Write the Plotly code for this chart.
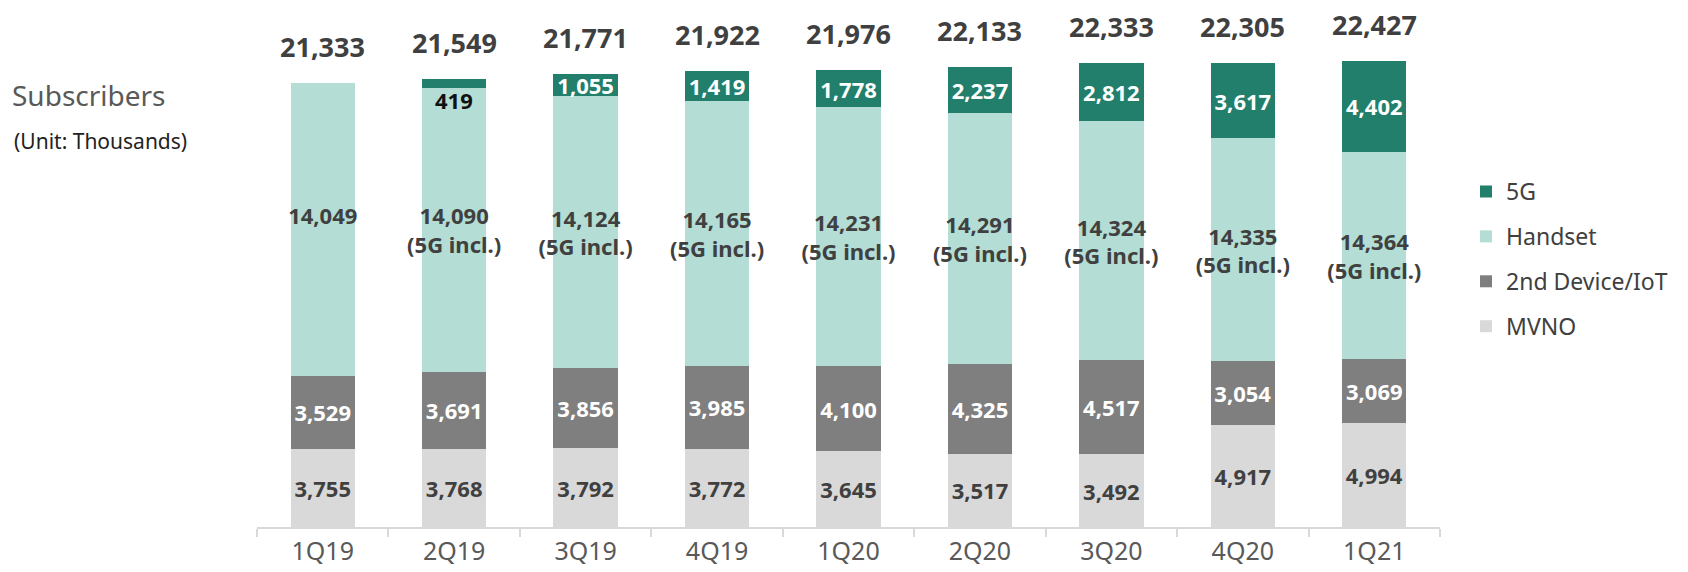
import plotly.graph_objects as go

# Daten (Tausend Abonnenten)
quarters = ["1Q19", "2Q19", "3Q19", "4Q19", "1Q20", "2Q20", "3Q20", "4Q20", "1Q21"]
mvno = [3755, 3768, 3792, 3772, 3645, 3517, 3492, 4917, 4994]
iot = [3529, 3691, 3856, 3985, 4100, 4325, 4517, 3054, 3069]
handset = [14049, 14090, 14124, 14165, 14231, 14291, 14324, 14335, 14364]  # inkl. 5G
fiveg = [0, 419, 1055, 1419, 1778, 2237, 2812, 3617, 4402]
totals = [21333, 21549, 21771, 21922, 21976, 22133, 22333, 22305, 22427]

handset_ohne_5g = [h - g for h, g in zip(handset, fiveg)]

def fmt(v):
    return f"{v:,}"

FONT = "Noto Sans"
DARK = "#404040"
LBL = 22

# erste Zeile leer auffüllen, damit 14,049 auf gleicher Höhe sitzt wie die anderen
handset_text = [fmt(handset[0]) + "<br>&nbsp;"] + [fmt(h) + "<br>(5G incl.)" for h in handset[1:]]
fiveg_text = ["", ""] + [fmt(g) for g in fiveg[2:]]  # 419 kommt als Annotation

fig = go.Figure()
fig.add_trace(go.Bar(x=quarters, y=mvno, name="MVNO", marker_color="#D9D9D9",
                     text=[fmt(v) for v in mvno], textfont=dict(color=DARK, size=LBL, family=FONT, weight="bold"),
                     legendgroup="mvno", legendrank=4))
fig.add_trace(go.Bar(x=quarters, y=iot, name="2nd Device/IoT", marker_color="#7F7F7F",
                     text=[fmt(v) for v in iot], textfont=dict(color="white", size=LBL, family=FONT, weight="bold"),
                     legendgroup="iot", legendrank=3))
fig.add_trace(go.Bar(x=quarters, y=handset_ohne_5g, name="Handset", marker_color="#B3DDD5",
                     text=handset_text, textfont=dict(color=DARK, size=LBL, family=FONT, weight="bold"),
                     legendgroup="handset", legendrank=2))
fig.add_trace(go.Bar(x=quarters, y=fiveg, name="5G", marker_color="#217F6B",
                     text=fiveg_text, textfont=dict(color="white", size=LBL, family=FONT, weight="bold"),
                     legendgroup="5g", legendrank=1))
fig.update_traces(textposition="inside", insidetextanchor="middle", textangle=0,
                  marker_line_width=0, hoverinfo="skip", cliponaxis=False)

# Summen über den Balken
for q, t in zip(quarters, totals):
    fig.add_annotation(x=q, y=t, text=fmt(t), showarrow=False, yanchor="bottom", yshift=16,
                       font=dict(size=27, color=DARK, family=FONT, weight="bold"))

# 419 unterhalb des dünnen 5G-Segments
fig.add_annotation(x=quarters[1], y=mvno[1] + iot[1] + handset_ohne_5g[1], text=fmt(fiveg[1]),
                   showarrow=False, yanchor="top", yshift=5,
                   font=dict(size=LBL, color="#111111", family=FONT, weight="bold"))

fig.add_annotation(xref="paper", yref="paper", x=-0.209, y=0.866, xanchor="left", yanchor="middle",
                   text="Subscribers", showarrow=False, font=dict(size=28, color="#595959", family=FONT))
fig.add_annotation(xref="paper", yref="paper", x=-0.207, y=0.774, xanchor="left", yanchor="middle",
                   text="(Unit: Thousands)", showarrow=False, font=dict(size=21, color="#222222", family=FONT))

fig.update_layout(
    width=1688, height=572,
    barmode="stack", bargap=0.51,
    margin=dict(l=257, r=248, t=28, b=45, autoexpand=False),
    plot_bgcolor="white", paper_bgcolor="white",
    uniformtext=dict(minsize=LBL, mode="show"),
    legend=dict(x=1.022, y=0.537, xanchor="left", yanchor="middle",
                tracegroupgap=12, font=dict(size=23, color=DARK, family=FONT), itemclick=False),
)
fig.update_xaxes(showline=True, linecolor="#D9D9D9", linewidth=2, ticks="outside", tickson="boundaries",
                 ticklen=8, tickcolor="#D9D9D9", tickwidth=2, automargin=False, ticklabelstandoff=1,
                 tickfont=dict(size=25, color="#595959", family=FONT))
fig.update_yaxes(range=[0, 24000], visible=False)

# Browser-Standardrand am body entfernen
fig.write_html("out.html", config={"displayModeBar": False},
               post_script="document.body.style.margin='0';")
